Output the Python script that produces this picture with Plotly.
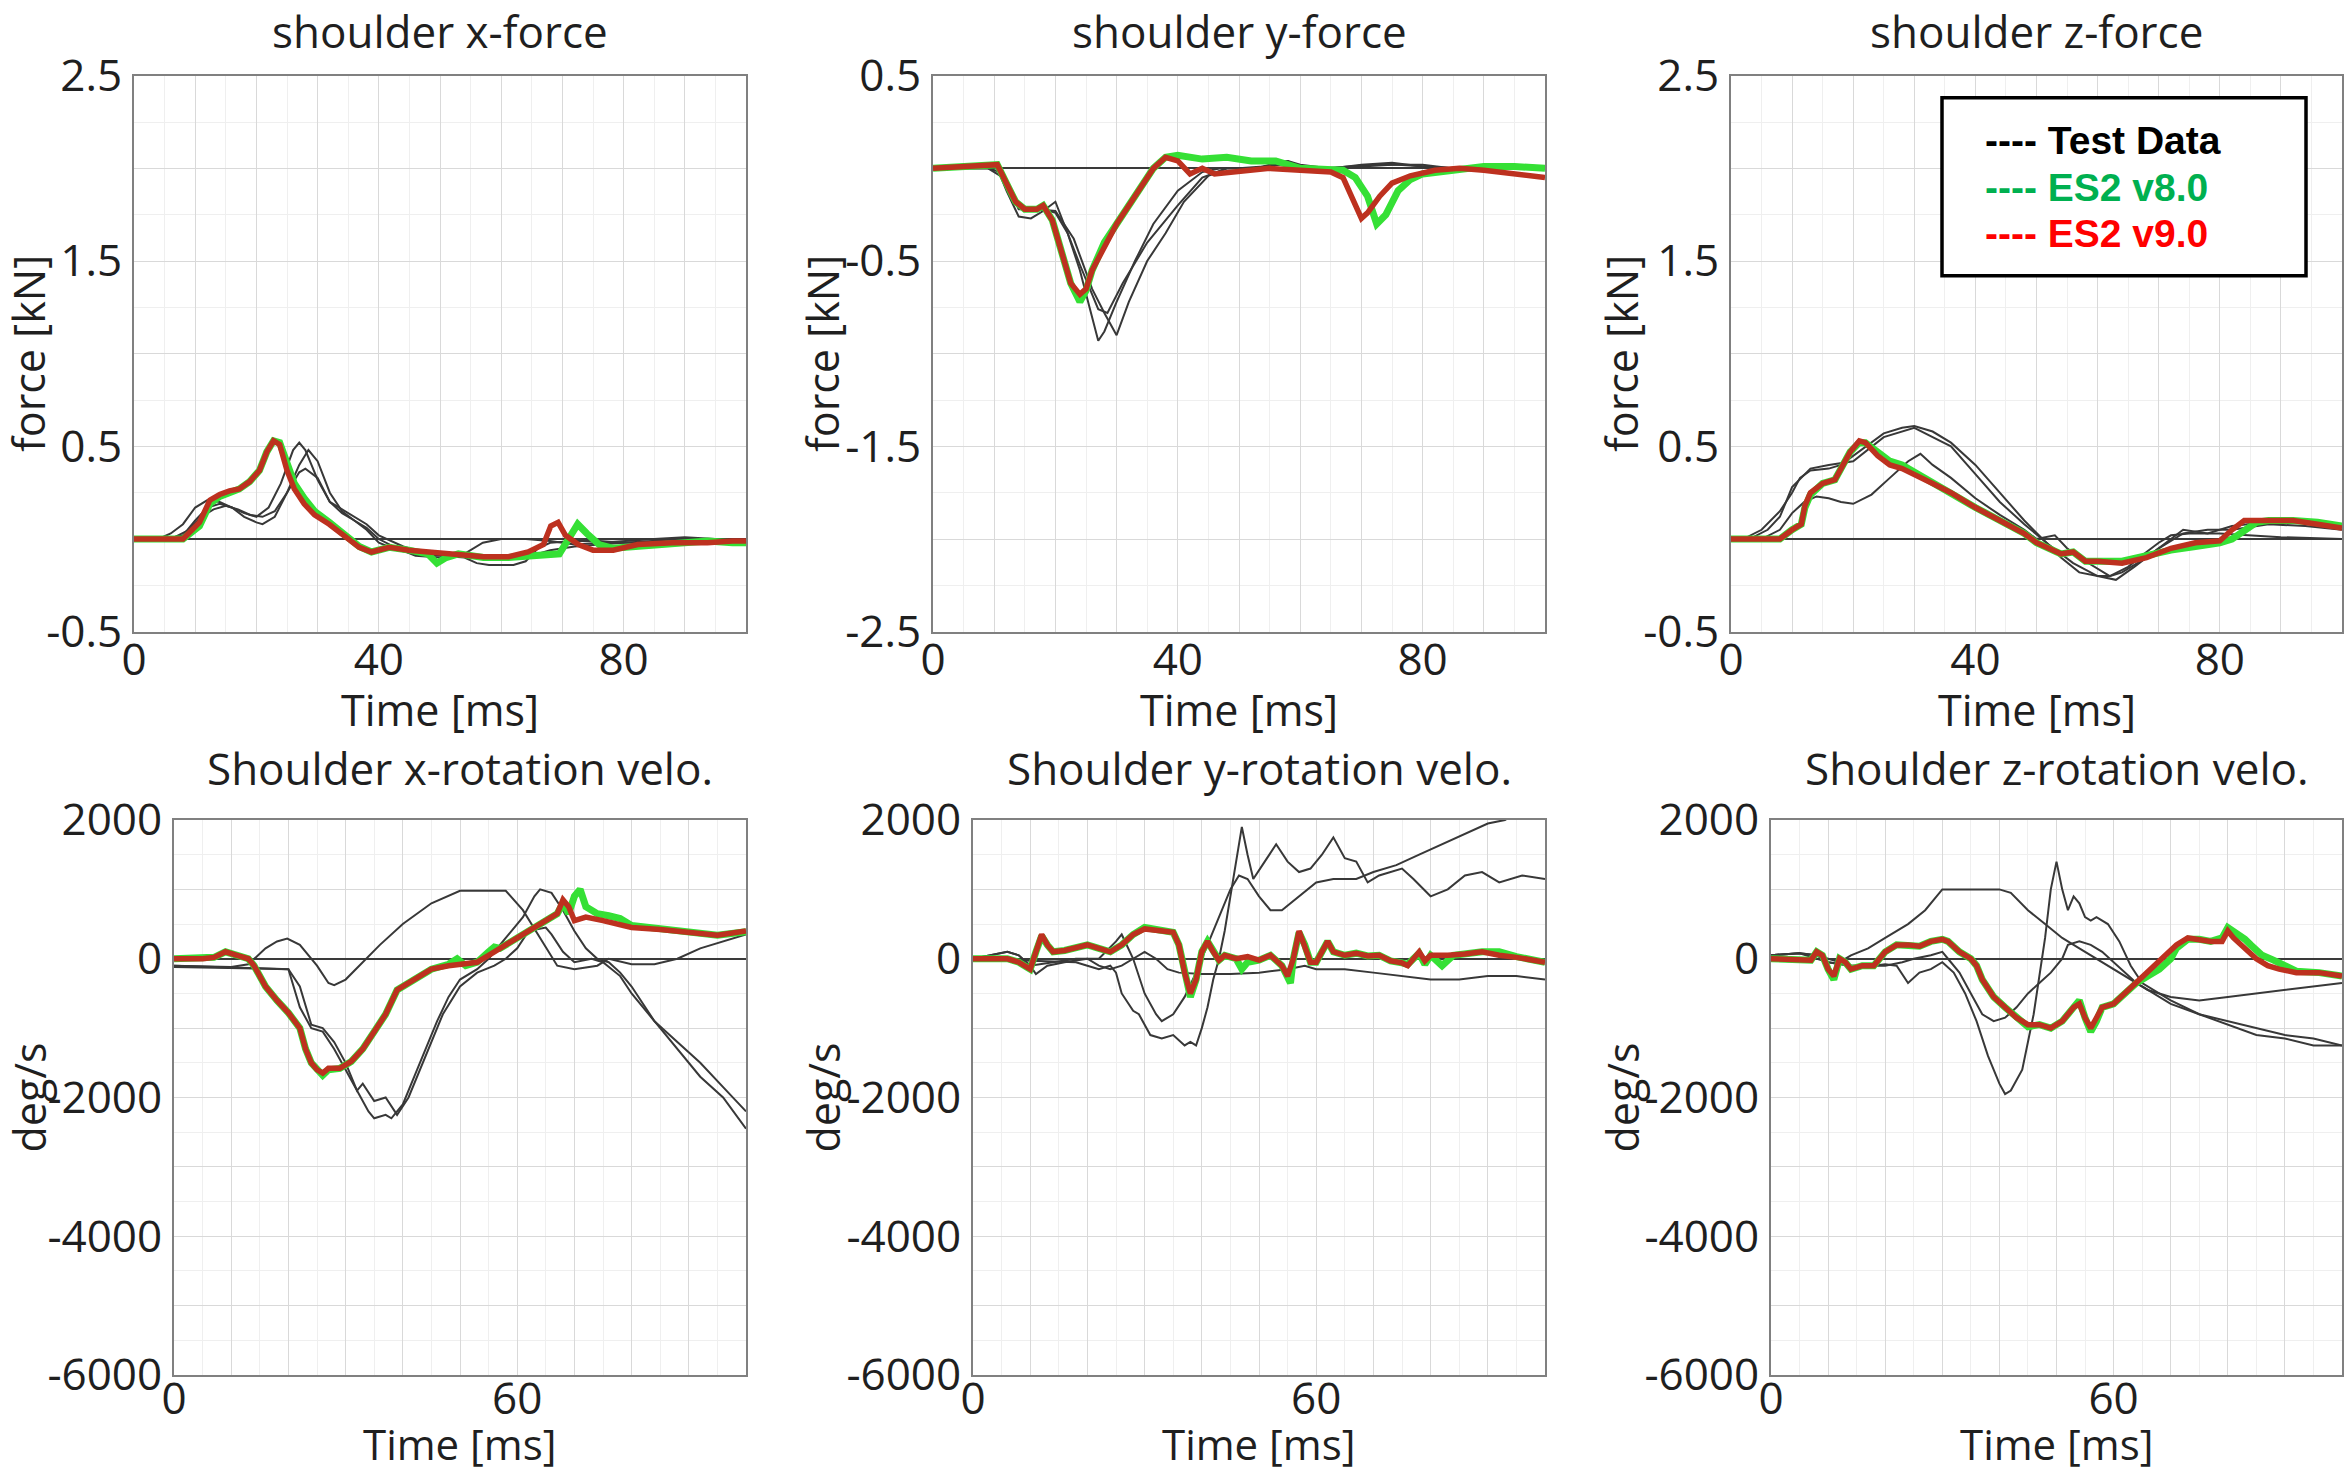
import plotly.graph_objects as go

# ---------------- DATA ----------------
# Panel 1: shoulder x-force [kN]
fx_test1_t = [0, 4, 6, 8, 10, 12, 14, 16, 18, 20, 22, 24, 26, 27, 28, 29, 30, 32, 34, 36, 38, 40, 43, 46, 50, 54, 56, 58, 62, 64, 66, 68, 72, 76, 80, 85, 90, 95, 100]
fx_test1 = [0, 0, 0.03, 0.08, 0.17, 0.21, 0.2, 0.17, 0.14, 0.12, 0.17, 0.3, 0.48, 0.52, 0.48, 0.4, 0.32, 0.2, 0.14, 0.1, 0.05, -0.02, -0.06, -0.08, -0.09, -0.1, -0.13, -0.14, -0.14, -0.12, -0.05, -0.02, -0.01, -0.01, -0.02, -0.01, 0, -0.01, -0.03]
fx_test2_t = [0, 5, 8, 10, 12, 14, 16, 18, 20, 21, 23, 25, 27, 28.5, 30, 32, 34, 36, 38, 40, 43, 46, 50, 54, 57, 60, 64, 68, 72, 76, 80, 85, 90, 95, 100]
fx_test2 = [0, 0, 0.02, 0.1, 0.17, 0.19, 0.17, 0.12, 0.09, 0.08, 0.12, 0.25, 0.4, 0.48, 0.42, 0.25, 0.15, 0.1, 0.06, 0.0, -0.05, -0.09, -0.1, -0.08, -0.02, 0.0, 0.0, -0.01, -0.03, -0.02, -0.01, 0.0, 0.01, 0.0, -0.02]
fx_test3_t = [0, 6, 9, 11, 13, 15, 17, 19, 21, 23, 25, 27, 28, 30, 32, 35, 38, 40, 44, 48, 52, 56, 60, 64, 68, 72, 76, 80, 85, 90, 95, 100]
fx_test3 = [0, 0, 0.05, 0.12, 0.16, 0.18, 0.16, 0.13, 0.12, 0.15, 0.25, 0.36, 0.38, 0.33, 0.2, 0.14, 0.08, 0.02, -0.04, -0.08, -0.09, -0.1, -0.1, -0.1, -0.06, -0.04, -0.03, -0.02, -0.02, 0.0, 0.0, -0.02]
fx_v8_t = [0, 8, 10.7, 12.4, 14, 15.6, 17.2, 18.9, 20.5, 21.7, 22.8, 23.8, 25, 26.2, 27.8, 29.5, 31.9, 34.3, 36.8, 38.8, 41.7, 44.9, 48, 49.5, 51, 53, 57.1, 61.2, 64.4, 67, 69.5, 71, 72.5, 74, 76, 78.3, 82.3, 88, 93.7, 97.8, 100]
fx_v8 = [0, 0, 0.07, 0.19, 0.23, 0.25, 0.27, 0.31, 0.37, 0.47, 0.53, 0.52, 0.4, 0.3, 0.22, 0.15, 0.09, 0.03, -0.04, -0.07, -0.045, -0.06, -0.08, -0.13, -0.1, -0.08, -0.1, -0.1, -0.09, -0.09, -0.08, 0.0, 0.08, 0.03, -0.03, -0.05, -0.04, -0.02, -0.01, -0.02, -0.02]
fx_v9_t = [0, 8, 10.7, 12.4, 14, 15.6, 17.2, 18.9, 20.5, 21.7, 22.8, 23.8, 25, 26.2, 27.8, 29.5, 31.9, 34.3, 36.8, 38.8, 41.7, 44.9, 49, 53, 57.1, 61.2, 64.4, 66.9, 68.1, 69.3, 70.5, 72.6, 75, 78.3, 82.3, 88, 93.7, 97.8, 100]
fx_v9 = [0, 0, 0.09, 0.21, 0.24, 0.26, 0.27, 0.31, 0.37, 0.47, 0.53, 0.51, 0.37, 0.27, 0.19, 0.13, 0.08, 0.02, -0.045, -0.07, -0.045, -0.06, -0.07, -0.08, -0.095, -0.095, -0.07, -0.03, 0.07, 0.09, 0.02, -0.03, -0.06, -0.06, -0.03, -0.02, -0.02, -0.01, -0.01]

# Panel 2: shoulder y-force [kN]
fy_test1_t = [0, 9, 10.5, 12, 14, 16, 18, 20, 22, 24, 26, 27, 28, 30, 33, 36, 40, 44, 47, 50, 54, 56, 58, 60, 64, 68, 72, 76, 80, 85, 90, 95, 100]
fy_test1 = [0, 0, 0, -0.12, -0.26, -0.27, -0.23, -0.18, -0.35, -0.55, -0.8, -0.93, -0.88, -0.72, -0.5, -0.3, -0.12, -0.02, 0, 0, 0.01, 0.03, 0.04, 0.0, 0, 0.01, 0.02, 0.02, 0.01, 0, 0, 0, 0]
fy_test2_t = [0, 9, 11, 12.5, 14, 17, 20, 23, 26, 28, 30, 32, 35, 38, 41, 45, 48, 52, 56, 58, 60, 65, 70, 75, 80, 85, 90, 100]
fy_test2 = [0, 0, -0.02, -0.12, -0.22, -0.22, -0.23, -0.38, -0.65, -0.78, -0.9, -0.72, -0.5, -0.35, -0.18, -0.04, 0, 0, 0.02, 0.04, 0.02, 0, 0.02, 0.03, 0.01, 0, 0, 0]
fy_test3_t = [0, 9, 11, 13, 15, 18, 20, 22, 24, 26, 27, 28.5, 31, 35, 40, 44, 48, 52, 56, 60, 65, 70, 75, 80, 85, 90, 100]
fy_test3 = [0, 0, -0.04, -0.16, -0.23, -0.22, -0.24, -0.35, -0.52, -0.68, -0.76, -0.78, -0.62, -0.4, -0.2, -0.05, 0, 0, 0.02, 0.01, 0, 0.01, 0.02, 0.02, 0, 0, 0]
fy_v8_t = [0, 8, 10.5, 12, 13.5, 15, 17, 18, 19.5, 21, 22.5, 24, 25, 26, 28, 30, 32, 34, 36, 38, 40, 44, 48, 52, 56, 60, 64, 67, 69, 71, 72.5, 74, 76, 78, 80, 85, 90, 95, 100]
fy_v8 = [0, 0.02, 0.02, -0.08, -0.18, -0.22, -0.22, -0.2, -0.28, -0.45, -0.62, -0.72, -0.66, -0.55, -0.4, -0.3, -0.2, -0.1, 0.0, 0.06, 0.07, 0.05, 0.06, 0.04, 0.04, 0.0, -0.01, -0.01, -0.05, -0.15, -0.3, -0.25, -0.12, -0.06, -0.03, -0.01, 0.01, 0.01, 0.0]
fy_v9_t = [0, 8, 10.5, 12, 13.5, 15, 17, 18, 19.5, 21, 22.5, 24, 25, 26, 28, 30, 32, 34, 36, 38, 40, 42, 44, 46, 50, 55, 60, 65, 67, 69, 70, 71, 73, 75, 78, 82, 86, 90, 95, 100]
fy_v9 = [0, 0.02, 0.02, -0.08, -0.18, -0.22, -0.22, -0.2, -0.28, -0.45, -0.62, -0.68, -0.65, -0.55, -0.42, -0.3, -0.2, -0.1, 0.0, 0.06, 0.04, -0.03, 0.0, -0.03, -0.02, 0, -0.01, -0.02, -0.05, -0.2, -0.27, -0.24, -0.15, -0.08, -0.04, -0.01, 0, -0.01, -0.03, -0.05]

# Panel 3: shoulder z-force [kN]
fz_test1_t = [0, 2, 5, 8, 10, 11.3, 13, 16, 18, 20, 22, 25, 28, 30, 33, 36, 40, 44, 48, 51, 54, 57, 60, 62, 65, 68, 70, 72, 75, 80, 85, 90, 100]
fz_test1 = [0, 0, 0.05, 0.15, 0.25, 0.33, 0.37, 0.38, 0.4, 0.45, 0.5, 0.57, 0.6, 0.61, 0.58, 0.52, 0.4, 0.25, 0.1, 0.0, -0.1, -0.18, -0.2, -0.2, -0.15, -0.07, -0.02, 0.02, 0.03, 0.03, 0.02, 0.01, 0.0]
fz_test2_t = [0, 3, 6, 8, 10, 13, 16, 20, 25, 30, 33, 36, 40, 44, 48, 52, 56, 60, 63, 66, 70, 74, 78, 82, 88, 94, 100]
fz_test2 = [0, 0, 0.05, 0.12, 0.28, 0.38, 0.4, 0.42, 0.55, 0.6, 0.55, 0.5, 0.35, 0.2, 0.08, -0.03, -0.13, -0.2, -0.22, -0.15, -0.05, 0.03, 0.05, 0.05, 0.08, 0.07, 0.05]
fz_test3_t = [0, 5, 8, 10, 12, 14, 16, 18, 20, 23, 26, 29, 31, 33, 36, 40, 44, 48, 50, 53, 55, 58, 62, 64, 68, 72, 74, 78, 82, 90, 100]
fz_test3 = [0, 0, 0.05, 0.14, 0.2, 0.23, 0.22, 0.2, 0.19, 0.24, 0.33, 0.42, 0.46, 0.4, 0.33, 0.22, 0.13, 0.05, 0.0, 0.02, -0.05, -0.12, -0.2, -0.18, -0.1, 0.0, 0.05, 0.03, 0.07, 0.1, 0.08]
fz_v8_t = [0, 8, 10, 11.5, 12.1, 13, 15, 17, 18, 19.5, 21, 22, 24, 26, 28, 30, 33, 36, 40, 44, 48, 50, 52, 54, 56, 58, 60, 64, 68, 72, 76, 80, 82, 84, 86, 88, 92, 96, 100]
fz_v8 = [0, 0, 0.05, 0.08, 0.17, 0.24, 0.3, 0.32, 0.38, 0.47, 0.52, 0.52, 0.47, 0.42, 0.4, 0.36, 0.3, 0.25, 0.17, 0.1, 0.03, -0.02, -0.05, -0.08, -0.07, -0.12, -0.12, -0.12, -0.09, -0.06, -0.04, -0.02, 0.0, 0.05, 0.09, 0.1, 0.1, 0.09, 0.07]
fz_v9_t = [0, 8, 10, 11.5, 12.1, 13, 15, 17, 18, 19.5, 21, 22, 24, 26, 28, 30, 33, 36, 40, 44, 48, 50, 52, 54, 56, 58, 60, 64, 68, 72, 76, 80, 82, 84, 88, 92, 96, 100]
fz_v9 = [0, 0, 0.05, 0.08, 0.18, 0.25, 0.3, 0.32, 0.38, 0.47, 0.53, 0.52, 0.45, 0.4, 0.38, 0.35, 0.3, 0.25, 0.17, 0.1, 0.03, -0.02, -0.05, -0.08, -0.07, -0.12, -0.12, -0.13, -0.1, -0.05, -0.02, -0.01, 0.05, 0.1, 0.1, 0.1, 0.08, 0.06]

# Panel 4: Shoulder x-rotation velocity [deg/s]
vx_test1_t = [0, 10, 13, 16, 18, 19.8, 22, 25, 27, 28, 30, 33, 36, 40, 45, 50, 58, 61, 64, 67, 70, 74, 76, 80, 84, 88, 92, 96, 100]
vx_test1 = [-100, -120, -80, 150, 250, 290, 200, -100, -350, -380, -300, -50, 200, 500, 800, 980, 980, 700, 300, -100, -150, -100, 0, -80, -80, 0, 150, 250, 350]
vx_test2_t = [0, 10, 20, 22, 24, 26, 28, 30, 32, 34, 35, 37, 38, 40, 42, 44, 46, 48, 50, 53, 55, 58, 61, 63, 64, 66, 68, 70, 72, 74, 76, 78, 80, 84, 88, 92, 96, 100]
vx_test2 = [-120, -130, -150, -700, -1000, -1050, -1300, -1600, -1900, -2200, -2300, -2250, -2300, -2100, -1700, -1300, -900, -550, -300, -150, 0, 300, 600, 900, 1000, 950, 700, 400, 150, 0, -50, -200, -400, -900, -1300, -1700, -2000, -2450]
vx_test3_t = [0, 10, 20, 22, 24, 26, 28, 30, 32, 33, 35, 37, 39, 41, 43, 45, 47, 50, 53, 56, 58, 60, 62, 65, 66, 68, 70, 73, 75, 78, 80, 84, 88, 92, 96, 100]
vx_test3 = [-100, -120, -150, -400, -950, -1000, -1200, -1500, -1900, -1800, -2050, -2000, -2250, -2000, -1600, -1200, -800, -400, -200, -100, 0, 150, 400, 450, 350, 100, -50, 0, -50, -250, -500, -900, -1200, -1500, -1850, -2200]
vx_v8_t = [0, 5, 7, 9, 11, 13, 14, 16, 18, 20, 22, 23, 24, 25, 26, 27, 29, 31, 33, 35, 37, 39, 41, 43, 45, 48, 49.5, 51, 53, 55, 56, 57, 60, 63, 65, 67, 68, 69, 70, 71, 72, 74, 76, 78, 80, 85, 90, 95, 100]
vx_v8 = [0, 0, 20, 100, 50, 0, -100, -400, -600, -780, -1000, -1300, -1500, -1600, -1680, -1600, -1580, -1480, -1300, -1050, -800, -450, -350, -250, -150, -80, 0, -100, -50, 100, 170, 150, 300, 450, 550, 650, 800, 650, 900, 1000, 750, 650, 620, 580, 480, 430, 380, 340, 390]
vx_v9_t = [0, 5, 7, 9, 11, 13, 14, 16, 18, 20, 22, 23, 24, 25, 26, 27, 29, 31, 33, 35, 37, 39, 41, 43, 45, 48, 50, 53, 55, 57, 60, 63, 65, 67, 68, 69, 70, 72, 75, 80, 85, 90, 95, 100]
vx_v9 = [0, 0, 20, 100, 50, 0, -100, -400, -600, -780, -1000, -1300, -1500, -1600, -1650, -1580, -1580, -1480, -1300, -1050, -800, -450, -350, -250, -150, -100, -80, -50, 50, 150, 300, 450, 550, 650, 850, 750, 550, 600, 550, 450, 420, 380, 340, 400]

# Panel 5: Shoulder y-rotation velocity [deg/s]
vy_test1_t = [0, 6, 8, 10, 11, 13, 16, 20, 22, 25, 26, 28, 30, 32, 33, 35, 37, 39, 41, 43, 45, 46.5, 48, 50, 52, 54, 57, 60, 63, 67, 70, 74, 78, 82, 86, 90, 93, 96, 100]
vy_test1 = [0, 100, 50, -100, -220, -100, -50, 0, 0, 250, 350, 0, -500, -800, -900, -800, -550, -200, 200, 600, 1000, 1200, 1150, 900, 700, 700, 900, 1100, 1150, 1150, 1250, 1350, 1500, 1650, 1800, 1950, 2000, 2150, 2350]
vy_test2_t = [0, 16, 18, 20, 22, 24, 25, 26, 28, 29, 31, 33, 35, 37, 38, 39, 40, 41, 42, 43, 44, 45, 46, 47, 48, 49, 51, 53, 55, 57, 59, 61, 63, 65, 67, 69, 71, 73, 75, 77, 80, 83, 86, 89, 92, 96, 100]
vy_test2 = [0, -50, -50, -100, -150, -100, -200, -500, -750, -800, -1100, -1150, -1100, -1250, -1200, -1250, -1000, -700, -300, 0, 400, 900, 1400, 1900, 1500, 1150, 1400, 1650, 1400, 1250, 1300, 1500, 1750, 1450, 1400, 1100, 1200, 1250, 1300, 1150, 900, 1000, 1200, 1250, 1100, 1200, 1150]
vy_test3_t = [0, 6, 8, 10, 14, 18, 20, 22, 24, 26, 28, 30, 32, 34, 36, 40, 45, 50, 55, 58, 60, 65, 70, 75, 80, 85, 90, 95, 100]
vy_test3 = [0, 100, 50, -100, -50, 0, 0, -100, -150, -100, 0, 100, 0, -150, -200, -220, -220, -200, -150, -100, -150, -150, -200, -250, -300, -300, -250, -250, -300]
vy_v8_t = [0, 6, 8, 10, 11, 12, 13, 14, 16, 18, 20, 22, 24, 26, 28, 30, 33, 35, 36, 37, 38, 39, 40, 41, 42, 43, 44, 46, 47, 48, 50, 52, 54, 55, 55.5, 56, 57, 58, 59, 60, 61, 62, 63, 65, 67, 69, 71, 73, 75, 76, 78, 79, 80, 82, 84, 86, 89, 92, 95, 100]
vy_v8 = [0, 0, -50, -150, 100, 330, 200, 100, 120, 150, 200, 150, 100, 200, 350, 450, 420, 380, 200, -200, -550, -300, 100, 250, 100, -20, 50, 0, -150, -50, -20, 50, -100, -250, -350, 0, 380, 200, -50, -50, 100, 250, 100, 50, 80, 40, 50, -30, -60, -80, 80, -80, 50, -100, 50, 70, 100, 100, 30, -50]
vy_v9_t = [0, 6, 8, 10, 11, 12, 13, 14, 16, 18, 20, 22, 24, 26, 28, 30, 33, 35, 36, 37, 38, 39, 40, 41, 42, 43, 44, 46, 48, 50, 52, 54, 55, 56, 57, 58, 59, 60, 61, 62, 63, 65, 67, 69, 71, 73, 75, 76, 78, 79, 80, 83, 86, 89, 92, 95, 100]
vy_v9 = [0, 0, -50, -150, 100, 350, 200, 100, 120, 150, 200, 150, 100, 200, 350, 430, 400, 380, 200, -200, -500, -300, 100, 250, 100, -20, 50, 0, 30, -20, 50, -100, -250, 0, 400, 200, -50, -50, 100, 250, 100, 50, 80, 40, 50, -30, -60, -100, 100, -30, 50, 50, 70, 100, 50, 20, -50]

# Panel 6: Shoulder z-rotation velocity [deg/s]
vz_test1_t = [0, 5, 8, 12, 14, 17, 20, 24, 27, 29, 30, 35, 40, 42, 45, 48, 51, 54, 57, 60, 63, 66, 70, 75, 80, 85, 90, 95, 100]
vz_test1 = [50, 80, 50, -50, 50, 150, 300, 500, 700, 900, 1000, 1000, 1000, 950, 700, 500, 300, 150, 0, -150, -300, -450, -550, -600, -550, -500, -450, -400, -350]
vz_test2_t = [0, 5, 8, 10, 14, 18, 20, 22, 24, 26, 28, 30, 32, 34, 36, 38, 40, 41, 42, 44, 46, 48, 49, 50, 51, 52, 53, 54, 55, 56, 57, 59, 61, 63, 65, 67, 70, 75, 80, 85, 90, 95, 100]
vz_test2 = [50, 80, 50, -50, -100, -100, -80, -100, -350, -200, -150, -50, -200, -500, -900, -1400, -1800, -1950, -1900, -1600, -800, 300, 1000, 1400, 1000, 700, 900, 800, 600, 550, 600, 500, 250, -100, -350, -450, -600, -800, -950, -1100, -1150, -1250, -1250]
vz_test3_t = [0, 5, 10, 14, 18, 20, 23, 25, 28, 29, 30, 31, 33, 35, 37, 39, 41, 43, 45, 47, 49, 51, 52, 54, 56, 58, 60, 62, 64, 66, 70, 75, 80, 85, 90, 95, 100]
vz_test3 = [50, 80, -50, -100, -100, -100, -50, 0, 50, 80, 100, 0, -200, -500, -800, -900, -850, -700, -500, -350, -200, 0, 200, 250, 200, 100, -50, -200, -350, -450, -650, -800, -900, -1000, -1100, -1150, -1250]
vz_v8_t = [0, 4, 7, 8, 9, 10, 11, 12, 13, 14, 16, 18, 19, 20, 22, 24, 26, 28, 30, 31, 33, 35, 36, 37, 39, 41, 43, 45, 47, 49, 51, 53, 54, 55, 56, 57, 58, 60, 62, 64, 66, 68, 70, 71, 73, 75, 77, 79, 80, 81, 83, 84, 86, 88, 90, 92, 96, 100]
vz_v8 = [0, -20, -20, 100, 50, -150, -300, 0, -50, -150, -100, -100, 0, 100, 200, 200, 180, 250, 280, 250, 100, 0, -100, -300, -550, -700, -850, -980, -950, -1000, -900, -700, -600, -850, -1050, -900, -700, -650, -500, -350, -250, -150, 0, 150, 280, 280, 250, 300, 450, 400, 280, 200, 50, -20, -100, -180, -200, -250]
vz_v9_t = [0, 4, 7, 8, 9, 10, 11, 12, 13, 14, 16, 18, 19, 20, 22, 24, 26, 28, 30, 31, 33, 35, 36, 37, 39, 41, 43, 45, 47, 49, 51, 53, 54, 55, 56, 57, 58, 60, 62, 64, 66, 68, 70, 71, 73, 75, 77, 79, 80, 81, 83, 85, 87, 89, 92, 96, 100]
vz_v9 = [0, -20, -20, 100, 50, -150, -250, 0, -50, -150, -100, -100, 0, 100, 200, 200, 180, 250, 280, 250, 100, 0, -100, -300, -550, -700, -850, -950, -950, -1000, -900, -700, -650, -850, -1000, -850, -700, -650, -500, -350, -200, -50, 100, 200, 300, 280, 250, 250, 400, 300, 150, 0, -100, -150, -200, -200, -250]

panel_titles = ["shoulder x-force", "shoulder y-force", "shoulder z-force",
                "Shoulder x-rotation velo.", "Shoulder y-rotation velo.", "Shoulder z-rotation velo."]
y_titles = ["force [kN]", "force [kN]", "force [kN]", "deg/s", "deg/s", "deg/s"]
x_title = "Time [ms]"
legend_labels = ["Test Data", "ES2 v8.0", "ES2 v9.0"]

force_x_labels = [0, 40, 80]
velo_x_labels = [0, 60]
force_x1_labels = [-0.5, 0.5, 1.5, 2.5]
force_y2_labels = [-2.5, -1.5, -0.5, 0.5]
velo_y_labels = [-6000, -4000, -2000, 0, 2000]

# ---------------- STYLE / LAYOUT ----------------
W, H = 2348, 1473
FONT = "Open Sans"
TXT = "#1f1f1f"
TEST_C = "#383838"
V8_C = "#35e035"
V9_C = "#bd311f"
TICK_SIZE = 44
TITLE_SIZE = 44

panels = [
    dict(series=[(fx_test1_t, fx_test1), (fx_test2_t, fx_test2), (fx_test3_t, fx_test3)],
         v8=(fx_v8_t, fx_v8), v9=(fx_v9_t, fx_v9), yr=[-0.5, 2.5], ymaj=0.5, ymin=0.25,
         ylab=force_x1_labels, xlab=force_x_labels),
    dict(series=[(fy_test1_t, fy_test1), (fy_test2_t, fy_test2), (fy_test3_t, fy_test3)],
         v8=(fy_v8_t, fy_v8), v9=(fy_v9_t, fy_v9), yr=[-2.5, 0.5], ymaj=0.5, ymin=0.25,
         ylab=force_y2_labels, xlab=force_x_labels),
    dict(series=[(fz_test1_t, fz_test1), (fz_test2_t, fz_test2), (fz_test3_t, fz_test3)],
         v8=(fz_v8_t, fz_v8), v9=(fz_v9_t, fz_v9), yr=[-0.5, 2.5], ymaj=0.5, ymin=0.25,
         ylab=force_x1_labels, xlab=force_x_labels),
    dict(series=[(vx_test1_t, vx_test1), (vx_test2_t, vx_test2), (vx_test3_t, vx_test3)],
         v8=(vx_v8_t, vx_v8), v9=(vx_v9_t, vx_v9), yr=[-6000, 2000], ymaj=1000, ymin=500,
         ylab=velo_y_labels, xlab=velo_x_labels),
    dict(series=[(vy_test1_t, vy_test1), (vy_test2_t, vy_test2), (vy_test3_t, vy_test3)],
         v8=(vy_v8_t, vy_v8), v9=(vy_v9_t, vy_v9), yr=[-6000, 2000], ymaj=1000, ymin=500,
         ylab=velo_y_labels, xlab=velo_x_labels),
    dict(series=[(vz_test1_t, vz_test1), (vz_test2_t, vz_test2), (vz_test3_t, vz_test3)],
         v8=(vz_v8_t, vz_v8), v9=(vz_v9_t, vz_v9), yr=[-6000, 2000], ymaj=1000, ymin=500,
         ylab=velo_y_labels, xlab=velo_x_labels),
]

# plot-frame pixel boxes (left, right, top, bottom)
boxes = [(134, 746, 75.7, 631.7), (933, 1545, 75.7, 631.7), (1731, 2342, 75.7, 631.7),
         (174, 746, 820, 1375), (973, 1545, 820, 1375), (1771, 2342, 820, 1375)]
# distances of the axis-title centres from the frames
ytitle_gap = [105, 110, 109, 145, 150, 149]
xtitle_y = [710, 710, 710, 1443, 1443, 1443]
xtitle_size = [43, 43, 43, 42, 42, 42]
ytitle_size = 43
title_y = [31, 31, 31, 768, 768, 768]
x_label_shift = [-12, -12, -12, -16, -16, -16]


def fmt(v):
    if abs(v - round(v)) < 1e-9:
        return str(int(round(v)))
    return ("%g" % v)


fig = go.Figure()
layout = dict(width=W, height=H, autosize=False,
              margin=dict(l=0, r=0, t=0, b=0, pad=0, autoexpand=False),
              paper_bgcolor="white", plot_bgcolor="white", showlegend=False,
              font=dict(family=FONT, color=TXT, size=TICK_SIZE))
annotations = []

for i, p in enumerate(panels):
    n = "" if i == 0 else str(i + 1)
    xa, ya = "x" + n, "y" + n
    l, r, t, b = boxes[i]
    for (tt, vv) in p["series"]:
        fig.add_trace(go.Scatter(x=tt, y=vv, mode="lines", name=legend_labels[0],
                                 line=dict(color=TEST_C, width=2), xaxis=xa, yaxis=ya))
    fig.add_trace(go.Scatter(x=p["v8"][0], y=p["v8"][1], mode="lines", name=legend_labels[1],
                             line=dict(color=V8_C, width=7), xaxis=xa, yaxis=ya))
    fig.add_trace(go.Scatter(x=p["v9"][0], y=p["v9"][1], mode="lines", name=legend_labels[2],
                             line=dict(color=V9_C, width=5.5), xaxis=xa, yaxis=ya))

    xt = list(range(0, 101, 10))
    layout["xaxis" + n] = dict(
        domain=[l / W, r / W], anchor=ya, range=[0, 100], automargin=False,
        tickmode="array", tickvals=xt, ticktext=[str(v) if v in p["xlab"] else "" for v in xt],
        ticks="", ticklabelstandoff=x_label_shift[i],
        showgrid=True, gridcolor="#d9d9d9", gridwidth=1,
        minor=dict(dtick=5, tick0=0, showgrid=True, gridcolor="#efefef", gridwidth=1),
        showline=True, mirror=True, linecolor="#808080", linewidth=2, zeroline=False,
        tickfont=dict(family=FONT, size=TICK_SIZE, color=TXT))
    y0, y1 = p["yr"]
    nst = int(round((y1 - y0) / p["ymaj"]))
    yt = [y0 + k * p["ymaj"] for k in range(nst + 1)]
    layout["yaxis" + n] = dict(
        domain=[1 - b / H, 1 - t / H], anchor=xa, range=[y0, y1], automargin=False,
        tickmode="array", tickvals=yt,
        ticktext=[fmt(v) if any(abs(v - q) < 1e-9 for q in p["ylab"]) else "" for v in yt],
        ticks="", ticklabelstandoff=1,
        showgrid=True, gridcolor="#d9d9d9", gridwidth=1,
        minor=dict(dtick=p["ymin"], tick0=y0, showgrid=True, gridcolor="#efefef", gridwidth=1),
        showline=True, mirror=True, linecolor="#808080", linewidth=2,
        zeroline=True, zerolinecolor="#3a3a3a", zerolinewidth=1.5,
        tickfont=dict(family=FONT, size=TICK_SIZE, color=TXT))
    # panel title
    annotations.append(dict(text=panel_titles[i], xref="paper", yref="paper",
                            x=(l + r) / 2 / W, y=1 - title_y[i] / H, xanchor="center", yanchor="middle",
                            showarrow=False, font=dict(family=FONT, size=TITLE_SIZE, color=TXT)))
    # x-axis title
    annotations.append(dict(text=x_title, xref="paper", yref="paper",
                            x=(l + r) / 2 / W, y=1 - xtitle_y[i] / H, xanchor="center", yanchor="middle",
                            showarrow=False, font=dict(family=FONT, size=xtitle_size[i], color=TXT)))
    # y-axis title (rotated)
    annotations.append(dict(text=y_titles[i], xref="paper", yref="paper", textangle=-90,
                            x=(l - ytitle_gap[i]) / W, y=1 - (t + b) / 2 / H,
                            xanchor="center", yanchor="middle",
                            showarrow=False, font=dict(family=FONT, size=ytitle_size, color=TXT)))

# legend box (drawn as in the reference: a framed text block)
leg_colors = ["#000000", "#00b050", "#ff0000"]
leg_y = [141, 187, 234]
for lab, c, yy in zip(legend_labels, leg_colors, leg_y):
    annotations.append(dict(text="<b>---- " + lab + "</b>", xref="paper", yref="paper",
                            x=1983 / W, y=1 - yy / H, xanchor="left", yanchor="middle",
                            showarrow=False,
                            font=dict(family="Liberation Sans, Arial", size=39, color=c)))

layout["annotations"] = annotations
layout["shapes"] = [dict(type="rect", xref="paper", yref="paper", layer="above",
                         x0=1942 / W, x1=2306 / W, y0=1 - 275.7 / H, y1=1 - 97.7 / H,
                         line=dict(color="black", width=3.5), fillcolor="white")]
fig.update_layout(**layout)
fig.write_html("out.html")
